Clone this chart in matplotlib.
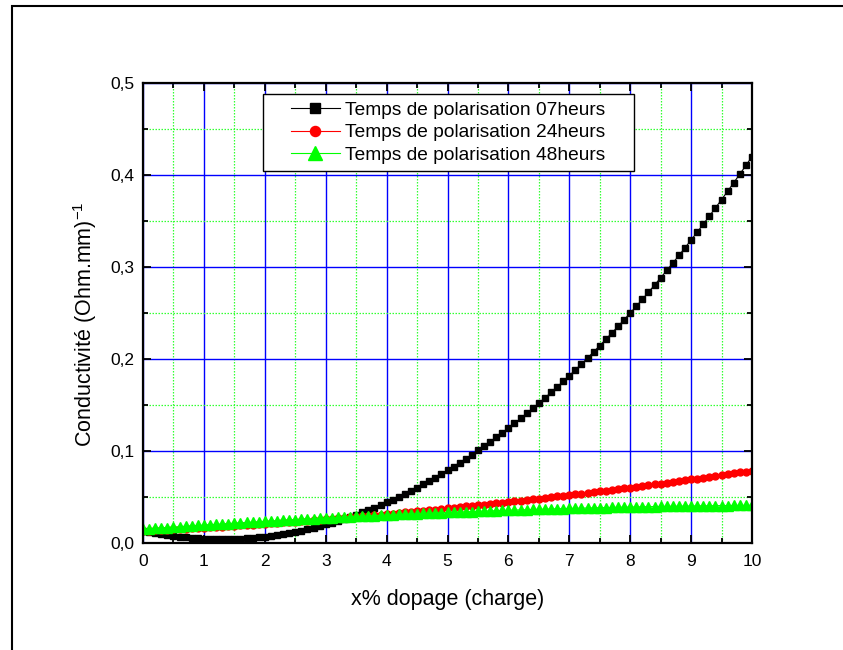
import matplotlib
matplotlib.use("Agg")
import matplotlib.pyplot as plt
from matplotlib.legend_handler import HandlerLine2D
from matplotlib.lines import Line2D
from matplotlib.patches import Rectangle
from matplotlib.ticker import MultipleLocator

plt.rcParams["font.family"] = ["Liberation Sans", "DejaVu Sans"]
plt.rcParams["mathtext.fontset"] = "custom"
plt.rcParams["mathtext.rm"] = "Liberation Sans"

# x% dopage (charge)
dopage = [
    0.0, 0.1, 0.2, 0.3, 0.4, 0.5, 0.6, 0.7, 0.8, 0.9,
    1.0, 1.1, 1.2, 1.3, 1.4, 1.5, 1.6, 1.7, 1.8, 1.9,
    2.0, 2.1, 2.2, 2.3, 2.4, 2.5, 2.6, 2.7, 2.8, 2.9,
    3.0, 3.1, 3.2, 3.3, 3.4, 3.5, 3.6, 3.7, 3.8, 3.9,
    4.0, 4.1, 4.2, 4.3, 4.4, 4.5, 4.6, 4.7, 4.8, 4.9,
    5.0, 5.1, 5.2, 5.3, 5.4, 5.5, 5.6, 5.7, 5.8, 5.9,
    6.0, 6.1, 6.2, 6.3, 6.4, 6.5, 6.6, 6.7, 6.8, 6.9,
    7.0, 7.1, 7.2, 7.3, 7.4, 7.5, 7.6, 7.7, 7.8, 7.9,
    8.0, 8.1, 8.2, 8.3, 8.4, 8.5, 8.6, 8.7, 8.8, 8.9,
    9.0, 9.1, 9.2, 9.3, 9.4, 9.5, 9.6, 9.7, 9.8, 9.9,
    10.0,
]

# conductivité, polarisation 07 heures
cond_07h = [
    0.01300, 0.01169, 0.01048, 0.00938, 0.00838, 0.00749, 0.00671, 0.00603, 0.00547, 0.00500,
    0.00465, 0.00440, 0.00426, 0.00423, 0.00430, 0.00448, 0.00477, 0.00517, 0.00567, 0.00628,
    0.00700, 0.00783, 0.00876, 0.00980, 0.01095, 0.01221, 0.01358, 0.01505, 0.01663, 0.01833,
    0.02013, 0.02203, 0.02405, 0.02617, 0.02841, 0.03075, 0.03320, 0.03576, 0.03843, 0.04121,
    0.04410, 0.04710, 0.05020, 0.05342, 0.05674, 0.06018, 0.06372, 0.06738, 0.07114, 0.07502,
    0.07900, 0.08309, 0.08730, 0.09161, 0.09604, 0.10057, 0.10522, 0.10997, 0.11484, 0.11981,
    0.12490, 0.13010, 0.13541, 0.14083, 0.14636, 0.15200, 0.15775, 0.16362, 0.16959, 0.17568,
    0.18188, 0.18818, 0.19461, 0.20114, 0.20778, 0.21454, 0.22141, 0.22839, 0.23548, 0.24268,
    0.25000, 0.25743, 0.26497, 0.27262, 0.28039, 0.28827, 0.29626, 0.30436, 0.31258, 0.32091,
    0.32935, 0.33791, 0.34657, 0.35536, 0.36425, 0.37326, 0.38238, 0.39161, 0.40096, 0.41042,
    0.42000,
]

# conductivité, polarisation 24 heures
cond_24h = [
    0.01300, 0.01334, 0.01368, 0.01403, 0.01438, 0.01474, 0.01511, 0.01548, 0.01586, 0.01625,
    0.01664, 0.01704, 0.01745, 0.01786, 0.01828, 0.01871, 0.01914, 0.01958, 0.02003, 0.02048,
    0.02094, 0.02140, 0.02187, 0.02235, 0.02283, 0.02333, 0.02382, 0.02433, 0.02484, 0.02535,
    0.02588, 0.02641, 0.02694, 0.02748, 0.02803, 0.02859, 0.02915, 0.02972, 0.03029, 0.03088,
    0.03146, 0.03206, 0.03266, 0.03327, 0.03388, 0.03450, 0.03513, 0.03576, 0.03640, 0.03705,
    0.03770, 0.03836, 0.03902, 0.03970, 0.04038, 0.04106, 0.04175, 0.04245, 0.04316, 0.04387,
    0.04458, 0.04531, 0.04604, 0.04678, 0.04752, 0.04827, 0.04903, 0.04979, 0.05056, 0.05133,
    0.05212, 0.05291, 0.05370, 0.05450, 0.05531, 0.05613, 0.05695, 0.05777, 0.05861, 0.05945,
    0.06030, 0.06115, 0.06201, 0.06288, 0.06375, 0.06463, 0.06552, 0.06641, 0.06731, 0.06821,
    0.06912, 0.07004, 0.07097, 0.07190, 0.07284, 0.07378, 0.07473, 0.07569, 0.07665, 0.07762,
    0.07860,
]

# conductivité, polarisation 48 heures
cond_48h = [
    0.01500, 0.01547, 0.01593, 0.01639, 0.01684, 0.01729, 0.01773, 0.01817, 0.01861, 0.01904,
    0.01947, 0.01990, 0.02032, 0.02073, 0.02114, 0.02155, 0.02196, 0.02236, 0.02275, 0.02314,
    0.02353, 0.02391, 0.02429, 0.02466, 0.02503, 0.02540, 0.02576, 0.02612, 0.02647, 0.02682,
    0.02717, 0.02751, 0.02785, 0.02818, 0.02851, 0.02883, 0.02915, 0.02947, 0.02978, 0.03009,
    0.03039, 0.03069, 0.03099, 0.03128, 0.03157, 0.03185, 0.03213, 0.03240, 0.03267, 0.03294,
    0.03320, 0.03346, 0.03371, 0.03396, 0.03421, 0.03445, 0.03469, 0.03492, 0.03515, 0.03537,
    0.03559, 0.03581, 0.03602, 0.03623, 0.03643, 0.03663, 0.03683, 0.03702, 0.03721, 0.03739,
    0.03757, 0.03774, 0.03791, 0.03808, 0.03824, 0.03840, 0.03855, 0.03870, 0.03885, 0.03899,
    0.03913, 0.03926, 0.03939, 0.03952, 0.03964, 0.03975, 0.03986, 0.03997, 0.04008, 0.04018,
    0.04027, 0.04036, 0.04045, 0.04053, 0.04061, 0.04069, 0.04076, 0.04083, 0.04089, 0.04095,
    0.04100,
]

labels = [
    "Temps de polarisation 07heurs",
    "Temps de polarisation 24heurs",
    "Temps de polarisation 48heurs",
]
xticks = [0, 1, 2, 3, 4, 5, 6, 7, 8, 9, 10]
xticklabels = ["0", "1", "2", "3", "4", "5", "6", "7", "8", "9", "10"]
yticks = [0.0, 0.1, 0.2, 0.3, 0.4, 0.5]
yticklabels = ["0,0", "0,1", "0,2", "0,3", "0,4", "0,5"]

fig = plt.figure(figsize=(8.43, 6.5), dpi=100)
fig.patch.set_facecolor("white")
ax = fig.add_axes([143 / 843, 1 - 543 / 650, 609 / 843, 460 / 650])

ax.plot(dopage, cond_07h, color="black", lw=0.8, marker="s", ms=4.8,
        mec="black", mfc="black", label=labels[0], zorder=3)
ax.plot(dopage, cond_24h, color="red", lw=0.8, marker="o", ms=5.0,
        mec="red", mfc="red", label=labels[1], zorder=4)
ax.plot(dopage, cond_48h, color="#00ff00", lw=0.8, marker="^", ms=6.5,
        mec="#00ff00", mfc="#00ff00", label=labels[2], zorder=5)

ax.set_xlim(0, 10)
ax.set_ylim(0, 0.5)
ax.set_xticks(xticks, xticklabels)
ax.set_yticks(yticks, yticklabels)
ax.xaxis.set_minor_locator(MultipleLocator(0.5))
ax.yaxis.set_minor_locator(MultipleLocator(0.05))

ax.grid(True, which="major", color="#0000ff", lw=1.0, ls="-")
ax.grid(True, which="minor", color="#33ff33", lw=0.9, ls=(0, (1.2, 1.2)))
ax.set_axisbelow(True)

ax.tick_params(which="both", direction="in", top=True, right=True,
               colors="black", labelsize=12.5, width=1.3)
ax.tick_params(which="major", length=6, pad=6)
ax.tick_params(which="minor", length=3.5)
ax.tick_params(axis="x", which="major", pad=8)
for s in ax.spines.values():
    s.set_linewidth(1.6)
    s.set_zorder(6)

ax.set_xlabel("x% dopage (charge)", fontsize=15.5, labelpad=14)
ax.set_ylabel("Conductivité (Ohm.mm)$^{\\mathregular{-1}}$", fontsize=15.5)
ax.yaxis.set_label_coords(-0.072, 0.475)

handler = {h: HandlerLine2D(xpad=1.05) for h in ax.get_lines()}
leg = ax.legend(loc="upper left", bbox_to_anchor=(0.197, 0.806, 0.609, 0.170),
                mode="expand", borderaxespad=0, fontsize=13.8, frameon=True,
                fancybox=False, edgecolor="black", framealpha=1,
                handlelength=3.6, handletextpad=0.3, borderpad=0.4,
                labelspacing=0.25, markerscale=1.45, handler_map=handler)
leg.get_frame().set_linewidth(1.0)
leg.set_zorder(7)

# cadre extérieur (coupé à droite et en bas)
fig.add_artist(Rectangle((12 / 843, -0.1), 1.2, 1.1 - 6 / 650,
                         transform=fig.transFigure, fill=False,
                         edgecolor="black", lw=1.5, clip_on=False))

fig.savefig("out.png", dpi=100, facecolor="white")
